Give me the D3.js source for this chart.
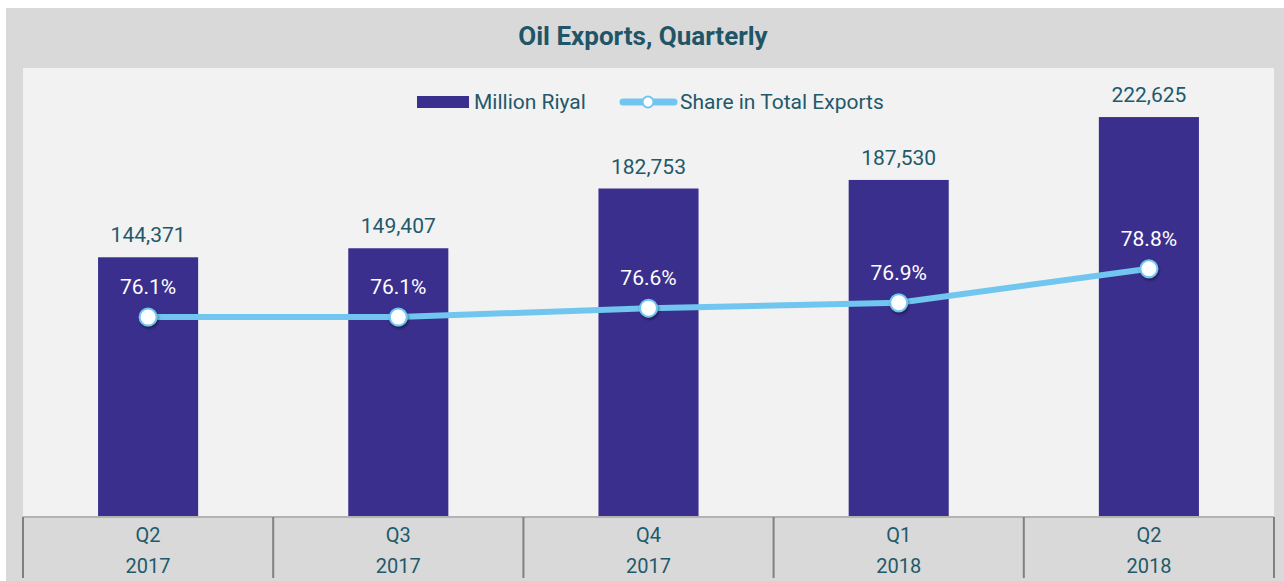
<!DOCTYPE html>
<html>
<head>
<meta charset="utf-8">
<script src="https://cdn.jsdelivr.net/npm/d3@7"></script>
<style>
  html, body { margin: 0; padding: 0; background: #ffffff; }
  svg { display: block; }
  text { font-family: Roboto, "Open Sans", sans-serif; }
</style>
</head>
<body>
<svg id="chart" width="1284" height="581"></svg>
<script>
const quarters = ["Q2", "Q3", "Q4", "Q1", "Q2"];
const years = ["2017", "2017", "2017", "2018", "2018"];
const millionRiyal = [144371, 149407, 182753, 187530, 222625];
const sharePct = [76.1, 76.1, 76.6, 76.9, 78.8];
const titleText = "Oil Exports, Quarterly";
const seriesNames = ["Million Riyal", "Share in Total Exports"];

const W = 1284, H = 581;
const outer = { x: 6, y: 8, w: 1278, h: 573 };
const plot = { left: 23, right: 1274, top: 68, bottom: 516 };

const BAR = "#3b2f8e", LINE = "#71c6ef", TEXT = "#22596a";

const svg = d3.select("#chart");
const defs = svg.append("defs");
const f = defs.append("filter").attr("id", "shadow").attr("x", "-50%").attr("y", "-50%").attr("width", "200%").attr("height", "200%");
f.append("feDropShadow").attr("dx", 1).attr("dy", 2).attr("stdDeviation", 1.5).attr("flood-color", "#000").attr("flood-opacity", 0.45);

svg.append("rect").attr("x", outer.x).attr("y", outer.y).attr("width", outer.w).attr("height", outer.h).attr("fill", "#d9d9d9");
svg.append("rect").attr("x", plot.left).attr("y", plot.top).attr("width", plot.right - plot.left).attr("height", plot.bottom - plot.top).attr("fill", "#f2f2f2");

svg.append("text").attr("x", 643).attr("y", 45).attr("text-anchor", "middle")
  .attr("font-size", 26).attr("font-weight", "bold").attr("fill", "#1f5566").text(titleText);

const idx = d3.range(quarters.length);
const x = d3.scaleBand().domain(idx).range([plot.left, plot.right]).paddingInner(0).paddingOuter(0);
const y = d3.scaleLinear().domain([0, 250000]).range([plot.bottom, plot.top]);
const y2 = d3.scaleLinear().domain([65, 90]).range([plot.bottom, plot.top]);
const barW = x.bandwidth() * 0.4;
const cx = i => x(i) + x.bandwidth() / 2;

// bars
svg.append("g").selectAll("rect").data(millionRiyal).join("rect")
  .attr("x", (d, i) => cx(i) - barW / 2)
  .attr("y", d => y(d))
  .attr("width", barW)
  .attr("height", d => y(0) - y(d))
  .attr("fill", BAR);

// bar labels
svg.append("g").selectAll("text").data(millionRiyal).join("text")
  .attr("x", (d, i) => cx(i))
  .attr("y", d => y(d) - 15)
  .attr("text-anchor", "middle")
  .attr("font-size", 21)
  .attr("fill", TEXT)
  .text(d => d3.format(",")(d));

// line
const line = d3.line().x((d, i) => cx(i)).y(d => y2(d));
svg.append("path").datum(sharePct).attr("d", line)
  .attr("fill", "none").attr("stroke", LINE).attr("stroke-width", 6).attr("stroke-linejoin", "round");

svg.append("g").selectAll("circle").data(sharePct).join("circle")
  .attr("cx", (d, i) => cx(i)).attr("cy", d => y2(d)).attr("r", 8.5)
  .attr("fill", "#ffffff").attr("stroke", LINE).attr("stroke-width", 2)
  .attr("filter", "url(#shadow)");

svg.append("g").selectAll("text").data(sharePct).join("text")
  .attr("x", (d, i) => cx(i))
  .attr("y", d => y2(d) - 23)
  .attr("text-anchor", "middle")
  .attr("font-size", 21)
  .attr("fill", "#ffffff")
  .text(d => d.toFixed(1) + "%");

// axis
const axisG = svg.append("g");
axisG.append("line").attr("x1", plot.left).attr("x2", plot.right).attr("y1", plot.bottom + 1).attr("y2", plot.bottom + 1)
  .attr("stroke", "#a6a6a6").attr("stroke-width", 1.5);
const bounds = idx.map(i => x(i)).concat([plot.right]);
axisG.selectAll("line.sep").data(bounds).join("line").attr("class", "sep")
  .attr("x1", d => d).attr("x2", d => d).attr("y1", plot.bottom + 1).attr("y2", 578)
  .attr("stroke", "#808080").attr("stroke-width", 2);
axisG.selectAll("text.q").data(quarters).join("text").attr("class", "q")
  .attr("x", (d, i) => cx(i)).attr("y", 542).attr("text-anchor", "middle")
  .attr("font-size", 20).attr("fill", TEXT).text(d => d);
axisG.selectAll("text.yr").data(years).join("text").attr("class", "yr")
  .attr("x", (d, i) => cx(i)).attr("y", 573).attr("text-anchor", "middle")
  .attr("font-size", 20).attr("fill", TEXT).text(d => d);

// legend
const lg = svg.append("g");
lg.append("rect").attr("x", 417).attr("y", 96).attr("width", 52).attr("height", 12).attr("fill", BAR);
lg.append("text").attr("x", 474).attr("y", 109).attr("font-size", 21).attr("fill", TEXT).text(seriesNames[0]);
lg.append("line").attr("x1", 623).attr("x2", 674).attr("y1", 102).attr("y2", 102)
  .attr("stroke", LINE).attr("stroke-width", 7).attr("stroke-linecap", "round");
lg.append("circle").attr("cx", 648).attr("cy", 102).attr("r", 5.5).attr("fill", "#fff").attr("stroke", LINE).attr("stroke-width", 2);
lg.append("text").attr("x", 680).attr("y", 109).attr("font-size", 21).attr("fill", TEXT).text(seriesNames[1]);
</script>
</body>
</html>
